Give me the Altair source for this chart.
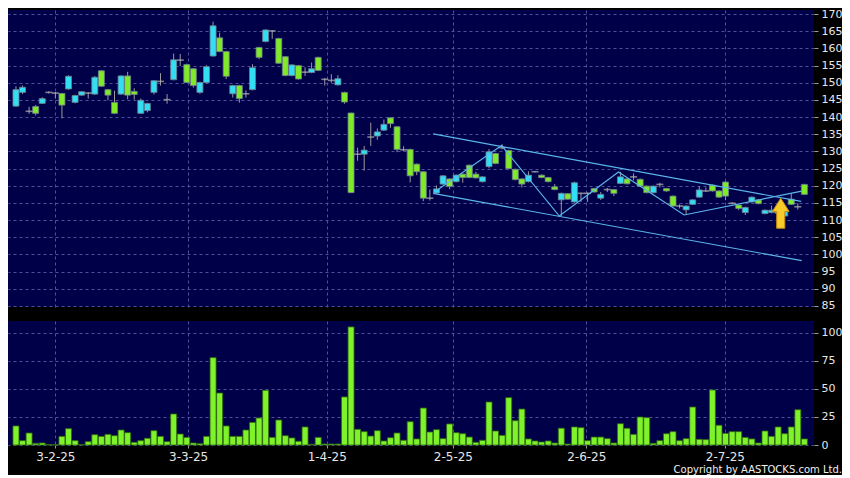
import altair as alt
import pandas as pd

# ---------------- data ----------------
open_ = [143.2,147.2,141.7,143.1,144.0,147.2,147.0,146.9,148.2,144.3,
         146.4,147.0,146.7,153.5,148.0,144.3,146.7,152.0,147.5,141.1,
         141.9,147.2,150.4,145.1,150.9,156.6,155.3,154.1,147.2,150.1,
         157.8,163.1,159.1,146.8,149.2,146.8,148.0,160.3,162.0,165.1,
         162.9,157.6,152.1,155.0,153.1,153.0,157.4,151.0,150.7,149.4,
         147.2,141.2,129.2,129.2,134.2,134.5,136.2,139.8,137.2,130.5,
         130.6,126.3,124.1,116.4,117.9,120.5,122.0,121.2,123.4,126.0,
         123.4,121.2,125.6,129.4,131.1,130.3,124.8,122.0,121.2,124.1,
         123.1,122.4,119.7,115.9,117.7,115.3,117.8,117.8,119.2,116.4,
         118.9,118.9,120.7,122.0,122.6,121.9,119.9,118.0,120.4,119.2,
         117.0,114.1,113.0,114.6,116.7,118.5,120.2,118.5,121.1,114.9,
         114.4,112.2,115.3,115.9,111.9,112.2,112.0,111.2,116.1,113.9,
         120.4]
close_ = [148.0,148.7,141.7,141.1,145.4,147.2,147.0,143.5,151.9,146.3,
          147.4,147.0,151.6,149.0,146.4,141.1,152.0,146.4,146.6,144.9,
          144.0,150.6,150.4,145.1,156.7,156.6,150.1,149.2,150.1,154.7,
          166.6,159.1,151.9,149.2,145.4,146.8,154.4,157.4,165.4,165.1,
          155.7,152.1,155.2,151.1,153.1,154.1,153.6,151.0,150.7,151.2,
          144.4,118.0,129.2,130.4,134.2,135.7,137.9,138.1,130.6,130.5,
          122.9,124.1,116.4,116.4,119.1,122.9,119.8,123.1,122.4,122.4,
          122.3,122.6,129.9,126.5,131.1,125.0,121.8,120.5,123.1,124.1,
          122.4,121.2,118.9,117.8,116.1,120.9,117.8,117.8,118.2,117.5,
          118.9,117.8,122.6,120.6,122.6,119.9,118.0,119.9,120.4,118.5,
          114.1,114.1,114.1,115.9,118.8,118.5,118.5,116.7,117.0,114.9,
          113.4,113.7,116.7,114.8,112.9,112.9,113.0,112.7,114.6,113.9,
          117.5]
high_ = [149.0,149.2,143.0,143.5,145.8,147.5,147.3,147.0,152.2,146.5,
         147.6,147.3,152.0,153.7,148.2,147.7,152.2,153.2,148.4,145.4,
         144.2,150.8,152.8,146.7,158.5,158.4,155.6,154.3,150.3,155.1,
         167.8,164.6,159.3,149.4,149.4,147.8,155.4,160.5,165.6,165.3,
         163.1,157.8,155.4,155.2,154.5,155.9,157.6,151.4,152.5,152.2,
         147.4,141.3,131.1,131.6,138.4,136.7,139.3,140.0,137.4,131.5,
         130.8,126.5,124.3,118.9,120.1,123.1,122.2,123.3,123.6,126.2,
         124.1,122.8,130.7,129.6,132.1,130.5,125.0,122.2,124.2,124.3,
         123.3,122.6,120.5,118.0,117.9,121.2,118.0,118.0,119.4,118.2,
         119.4,119.1,124.1,122.2,123.6,122.1,120.1,120.1,120.9,119.4,
         117.2,114.6,114.3,116.1,119.8,119.5,120.4,118.7,121.3,115.2,
         114.6,113.9,116.9,116.1,113.1,114.2,113.5,112.9,117.8,114.9,
         120.6]
low_ = [143.0,146.7,141.0,140.5,143.8,146.9,145.4,139.6,148.0,144.0,
        146.2,145.4,146.5,148.8,144.9,140.9,146.5,145.2,145.1,140.9,
        141.4,146.6,149.2,143.9,150.7,154.9,149.9,148.6,146.8,149.9,
        157.6,158.9,151.1,145.7,144.2,145.7,147.8,156.9,161.8,162.8,
        155.5,151.9,151.9,150.9,152.0,152.8,153.4,149.2,150.0,149.2,
        143.9,117.9,127.3,124.4,131.6,133.4,136.0,136.9,129.8,130.1,
        121.0,123.1,115.5,115.7,117.7,120.3,119.0,121.0,120.9,122.2,
        122.1,121.0,125.1,126.3,130.6,124.8,121.6,119.5,121.0,123.9,
        122.2,121.0,118.7,111.2,115.9,115.1,115.3,115.3,118.0,115.9,
        118.2,117.0,120.5,120.4,121.6,119.7,117.8,117.8,119.5,118.3,
        113.9,113.4,111.7,114.4,116.5,118.2,118.3,116.5,115.8,114.6,
        112.9,111.5,115.1,114.6,111.7,112.0,111.5,111.0,114.4,113.1,
        117.3]
volume = [17.0,3.9,10.7,1.5,1.8,0.3,0.3,7.7,14.6,3.9,
          0.3,3.0,9.2,7.7,9.5,8.3,13.4,11.0,2.4,3.9,
          6.0,12.8,7.7,3.0,27.7,9.8,6.8,1.8,1.2,7.7,
          78.0,46.4,17.0,7.7,7.7,13.4,20.2,24.1,48.8,6.8,
          22.3,8.3,6.3,3.3,16.1,0.6,6.8,0.9,0.9,0.9,
          42.9,105.4,14.0,11.9,8.0,12.8,3.6,6.5,10.7,4.2,
          20.8,5.4,33.0,11.6,13.7,5.7,18.8,11.0,10.1,7.1,
          2.4,4.2,38.4,12.5,8.6,42.3,21.7,32.1,5.4,3.6,
          2.7,3.6,1.8,15.0,0.9,16.1,15.5,3.9,7.1,7.1,
          5.7,1.8,19.0,14.9,9.5,25.0,24.4,1.5,3.9,10.1,
          11.9,3.9,5.7,33.9,5.1,4.8,49.1,17.6,10.4,11.9,
          11.9,6.8,5.4,1.8,12.5,7.7,16.1,10.1,16.1,31.5,
          5.4]

tick_pos = [6.0, 26.2, 47.3, 66.5, 86.8, 107.9]
tick_labels = ["3-2-25", "3-3-25", "1-4-25", "2-5-25", "2-6-25", "2-7-25"]
price_ticks = list(range(85, 171, 5))
vol_ticks = [0, 25, 50, 75, 100]

# trend lines drawn on the chart (bar index, price)
line_id = ["upper", "upper", "lower", "lower",
           "zig", "zig", "zig", "zig", "zig", "zig"]
line_x = [63.5, 119.5, 63.5, 119.6, 63.7, 73.9, 82.7, 91.7, 101.7, 119.6]
line_y = [135.1, 115.45, 117.8, 98.2, 118.2, 131.75, 111.2, 124.0, 111.5, 118.45]

arrow_x = [116.4]
arrow_y = [112.0]

# ---------------- styling ----------------
NAVY = "#000048"
CYAN = "#33def2"
GREEN = "#80ea2a"
VGREEN = "#7ff22c"
GRID = "#50509a"
LINE = "#5ab6ea"
FONT = "DejaVu Sans"

W = 806
X_DOM = [-0.45, 120.7]

n = len(open_)
df = pd.DataFrame({"i": list(range(n)), "open": open_, "close": close_,
                   "high": high_, "low": low_, "vol": volume})
df["dir"] = ["up" if c > o else ("down" if c < o else "flat")
             for o, c in zip(open_, close_)]

lines_df = pd.DataFrame({"id": line_id, "x": line_x, "y": line_y})
lines_df["order"] = list(range(len(line_x)))
arrow_df = pd.DataFrame({"x": arrow_x, "y": arrow_y})

label_expr = " : ".join(
    f"datum.value == {p} ? '{t}'" for p, t in zip(tick_pos, tick_labels)
) + " : ''"

xs = alt.Scale(domain=X_DOM, nice=False, zero=False)
ys = alt.Scale(domain=[84.7, 171.2], nice=False, zero=False)
vs = alt.Scale(domain=[0, 110.7], nice=False, zero=False)

price_y_axis = alt.Axis(orient="right", values=price_ticks, grid=True,
                        domain=False, labelOverlap=False, labelFlush=False)
x_price = alt.X("i:Q", scale=xs, title=None,
                axis=alt.Axis(values=tick_pos, labels=False, ticks=False,
                              domain=False, grid=True))
base = alt.Chart(df)

wick = base.mark_rule(color="#9a9a9a", strokeWidth=1).encode(
    x=x_price,
    y=alt.Y("low:Q", scale=ys, title=None, axis=price_y_axis),
    y2="high:Q",
)
body = base.transform_filter("datum.open != datum.close").mark_bar(
    size=6, stroke="#6f7f8f", strokeWidth=0.8
).encode(
    x=alt.X("i:Q", scale=xs, title=None),
    y=alt.Y("open:Q", scale=ys, title=None, axis=price_y_axis),
    y2="close:Q",
    color=alt.Color("dir:N", scale=alt.Scale(domain=["up", "down"],
                                             range=[CYAN, GREEN]),
                    legend=None),
)
doji = base.transform_filter("datum.open == datum.close").mark_tick(
    orient="horizontal", size=7, thickness=1.6, color="#b4b4b4"
).encode(x=alt.X("i:Q", scale=xs, title=None),
         y=alt.Y("close:Q", scale=ys, title=None, axis=price_y_axis))

trend = alt.Chart(lines_df).mark_line(color=LINE, strokeWidth=1.2).encode(
    x=alt.X("x:Q", scale=xs, title=None),
    y=alt.Y("y:Q", scale=ys, title=None, axis=price_y_axis),
    detail="id:N",
    order="order:Q",
)

arrow_shape = "M0,-1 L0.56,-0.12 L0.27,-0.12 L0.27,1 L-0.27,1 L-0.27,-0.12 L-0.56,-0.12 Z"
arrow = alt.Chart(arrow_df).mark_point(
    shape=arrow_shape, size=900, filled=True, fill="#f7cc2a",
    stroke="#c98a10", strokeWidth=1, opacity=1
).encode(x=alt.X("x:Q", scale=xs, title=None),
         y=alt.Y("y:Q", scale=ys, title=None, axis=price_y_axis))

price = alt.layer(wick, body, doji, trend, arrow).properties(width=W, height=297)

vol = alt.Chart(df).mark_bar(size=6, color=VGREEN, stroke="#2f6a0c",
                             strokeWidth=0.8).encode(
    x=alt.X("i:Q", scale=xs, title=None,
            axis=alt.Axis(values=tick_pos, labelExpr=label_expr, grid=True,
                          domain=False, ticks=True, tickSize=3,
                          labelFontSize=12, labelPadding=3)),
    y=alt.Y("vol:Q", scale=vs, title=None,
            axis=alt.Axis(orient="right", values=vol_ticks, grid=True,
                          domain=False, labelOverlap=False)),
).properties(width=W, height=124)

chart = alt.vconcat(price, vol, spacing=14, bounds="flush").properties(
    background="black",
    padding=0,
    title=alt.TitleParams("Copyright by AASTOCKS.com Ltd.", orient="bottom",
                          anchor="end", fontSize=10, font=FONT,
                          fontWeight="normal", color="#f0f0f0", offset=3),
).configure_view(fill=NAVY, stroke=None).configure_axis(
    labelColor="#e6e6e6", labelFont=FONT, labelFontSize=11,
    tickColor="#9a9a9a", tickSize=4, labelPadding=3, labelOverlap=False,
    gridColor=GRID, gridDash=[3, 3], gridWidth=1, gridOpacity=1,
)

chart.save("out.html", embed_options={"renderer": "svg", "actions": False})
